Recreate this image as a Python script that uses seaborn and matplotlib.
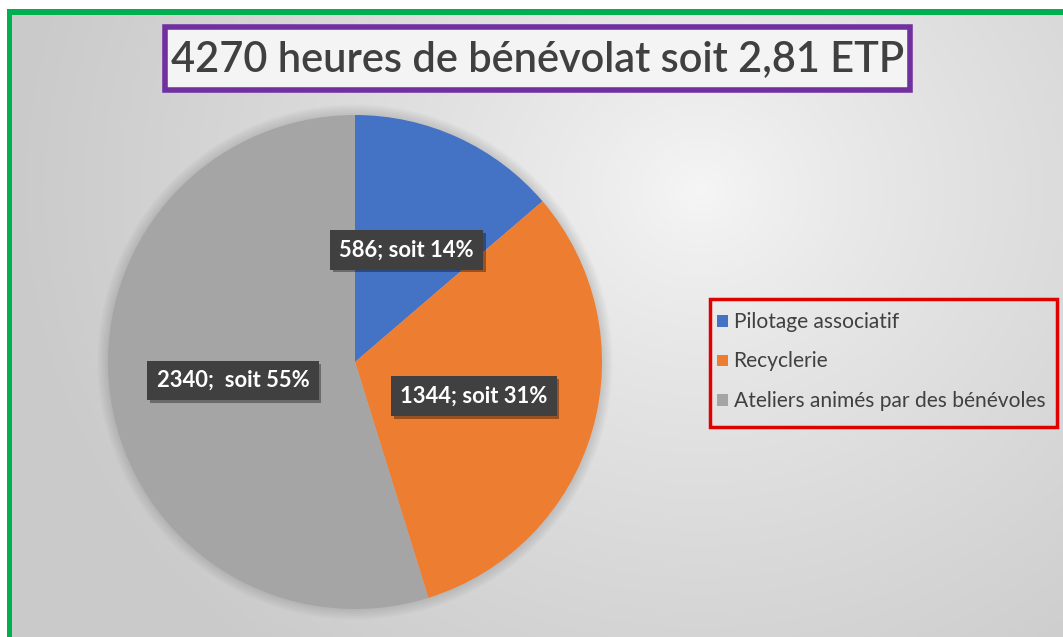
import numpy as np
import matplotlib
matplotlib.use("Agg")
import matplotlib.pyplot as plt
import matplotlib.patheffects as pe
from matplotlib.patches import Rectangle, Circle
import seaborn as sns

# data
categories = ["Pilotage associatif", "Recyclerie", "Ateliers animés par des bénévoles"]
heures = [586, 1344, 2340]
data_labels = ["586; soit 14%", "1344; soit 31%", "2340;  soit 55%"]
title = "4270 heures de bénévolat soit 2,81 ETP"
colors = sns.color_palette(["#4472C4", "#ED7D31", "#A5A5A5"])

sns.set_style("white")
plt.rcParams["font.family"] = ["Lato", "DejaVu Sans"]

W, H = 1063, 637
fig = plt.figure(figsize=(W / 100, H / 100), dpi=100)
fig.patch.set_facecolor("white")

# background axes in pixel coords (y down)
bg = fig.add_axes([0, 0, 1, 1], zorder=-1)
bg.set_xlim(0, W)
bg.set_ylim(H, 0)
bg.axis("off")
yy, xx = np.mgrid[0:H, 0:W]
d = np.sqrt(((xx - 700) / 1.0) ** 2 + ((yy - 190) / 0.9) ** 2)
g = 0.965 - 0.17 * np.clip(d / 680, 0, 1) ** 0.8
img = np.dstack([g, g, g])
bg.imshow(img[9:, 7:], extent=[7, W, H, 9], aspect="auto", zorder=0)
bg.add_patch(Rectangle((7, 9), W - 7, 6, color="#00B050", lw=0, zorder=2))
bg.add_patch(Rectangle((7, 9), 5, H - 9, color="#00B050", lw=0, zorder=2))

# title box
bg.add_patch(Rectangle((165, 27), 745, 63, fc="#f4f4f4", ec="#7030A0", lw=4, zorder=3))
t = bg.text(538, 59, title, ha="center", va="center", color="#404040",
            fontsize=30, fontweight="semibold", zorder=4)

# legend box
bg.add_patch(Rectangle((710, 299), 347, 128, fc="none", ec="#E00000", lw=2.5, zorder=3))

# pie
half = 247 * 1.1
ax = fig.add_axes([(355 - half) / W, (H - 362 - half) / H, 2 * half / W, 2 * half / H])
for k in range(6):
    ax.add_patch(Circle((0, 0), 1.0 + 0.007 * (k + 1), fc="black", alpha=0.018, lw=0))
wedges, _, autotexts = ax.pie(heures, colors=colors, startangle=90, counterclock=False,
                              autopct="%1.0f%%", pctdistance=0.5,
                              wedgeprops=dict(linewidth=0))
ax.set_xlim(-1.1, 1.1)
ax.set_ylim(-1.1, 1.1)
ax.set_aspect("equal")
ax.axis("off")

for at, lab in zip(autotexts, data_labels):
    at.set_text(lab)
    at.set_color("white")
    at.set_fontweight("bold")
    at.set_fontsize(15)
    at.set_bbox(dict(boxstyle="square,pad=0.42", fc="#404040", ec="none"))
    at.get_bbox_patch().set_path_effects(
        [pe.SimplePatchShadow(offset=(2, -2), shadow_rgbFace="black", alpha=0.35), pe.Normal()])

leg = fig.legend(wedges, categories, loc="upper left", bbox_to_anchor=(717 / W, 1 - 312 / H),
                 frameon=False, fontsize=14, handlelength=0.55, handleheight=0.55,
                 handletextpad=0.3, borderpad=0, borderaxespad=0, labelspacing=1.0)
for tx in leg.get_texts():
    tx.set_color("#404040")

# fit text widths to the reference
fig.canvas.draw()
r = fig.canvas.get_renderer()
tw = t.get_window_extent(r).width
t.set_fontsize(30 * 733 / tw)
aw = autotexts[0].get_window_extent(r).width
for at in autotexts:
    at.set_fontsize(15 * 135 / aw)
lw_ = leg.get_texts()[2].get_window_extent(r).width
fs = 14 * 313 / lw_
fs_px = fs * 100 / 72
for tx in leg.get_texts():
    tx.set_fontsize(fs)
leg._fontsize = fs
leg.labelspacing = max((41 - 1.2 * fs_px) / fs_px, 0.1)

fig.savefig("out.png", dpi=100)
